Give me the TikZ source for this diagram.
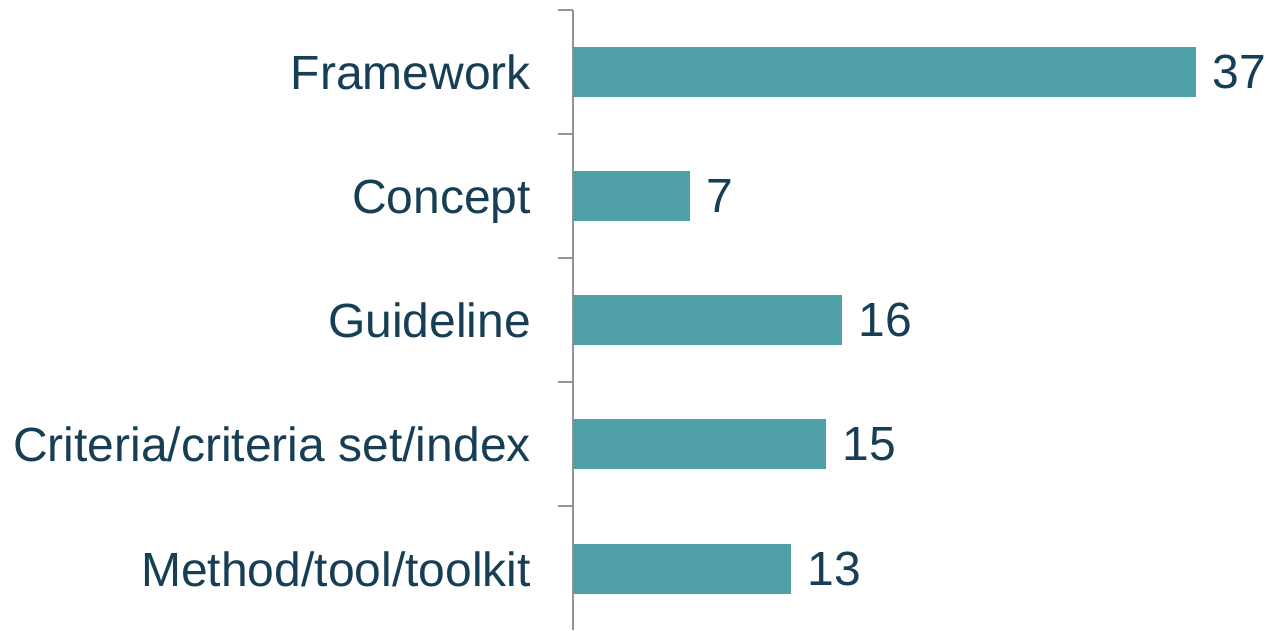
\documentclass[tikz,border=0pt]{standalone}
\usepackage{fontspec}
\setmainfont{Liberation Sans}
\usepackage{tikz}
\usetikzlibrary{positioning}
\definecolor{barra}{HTML}{4FA1A7}
\definecolor{texto}{HTML}{163E54}
\definecolor{eje}{HTML}{959595}
\tikzstyle{barra} = [fill=barra, draw=none, inner sep=0pt, minimum height=50pt, anchor=west]
\tikzstyle{categoria} = [text=texto, inner sep=0pt, anchor=base east, font=\fontsize{48}{52}\selectfont]
\tikzstyle{valor} = [text=texto, inner sep=0pt, font=\fontsize{48}{52}\selectfont]
\tikzstyle{eje} = [draw=eje, line width=2.5pt]

\begin{document}
\begin{tikzpicture}[x=1pt, y=-1pt]
	\useasboundingbox (0,0) rectangle (1268,630);
	% eje vertical con marcas
	\coordinate (ejesup) at (573,10);
	\coordinate (ejeinf) at (573,630);
	\draw[eje] (ejesup) -- (ejeinf);
	\draw[eje] (558,10) -- (573,10) (558,134) -- (573,134) (558,258) -- (573,258)
		(558,382) -- (573,382) (558,506) -- (573,506);
	% barras
	\node[barra, minimum width=623pt] (framework) at (573,72) {};
	\node[barra, minimum width=117pt] (concept) at (573,196) {};
	\node[barra, minimum width=269pt] (guideline) at (573,320) {};
	\node[barra, minimum width=253pt] (criteria) at (573,444) {};
	\node[barra, minimum width=218pt] (method) at (573,569) {};
	% valores
	\node[valor, right=16pt of framework] (vframework) {37};
	\node[valor, right=16pt of concept] (vconcept) {7};
	\node[valor, right=16pt of guideline] (vguideline) {16};
	\node[valor, right=16pt of criteria] (vcriteria) {15};
	\node[valor, right=16pt of method] (vmethod) {13};
	% categorias
	\node[categoria] (lframework) at (531,89) {Framework};
	\node[categoria] (lconcept) at (531,213) {Concept};
	\node[categoria] (lguideline) at (531,337) {Guideline};
	\node[categoria] (lcriteria) at (531,461) {Criteria/criteria set/index};
	\node[categoria] (lmethod) at (531,586) {Method/tool/toolkit};
\end{tikzpicture}
\end{document}
